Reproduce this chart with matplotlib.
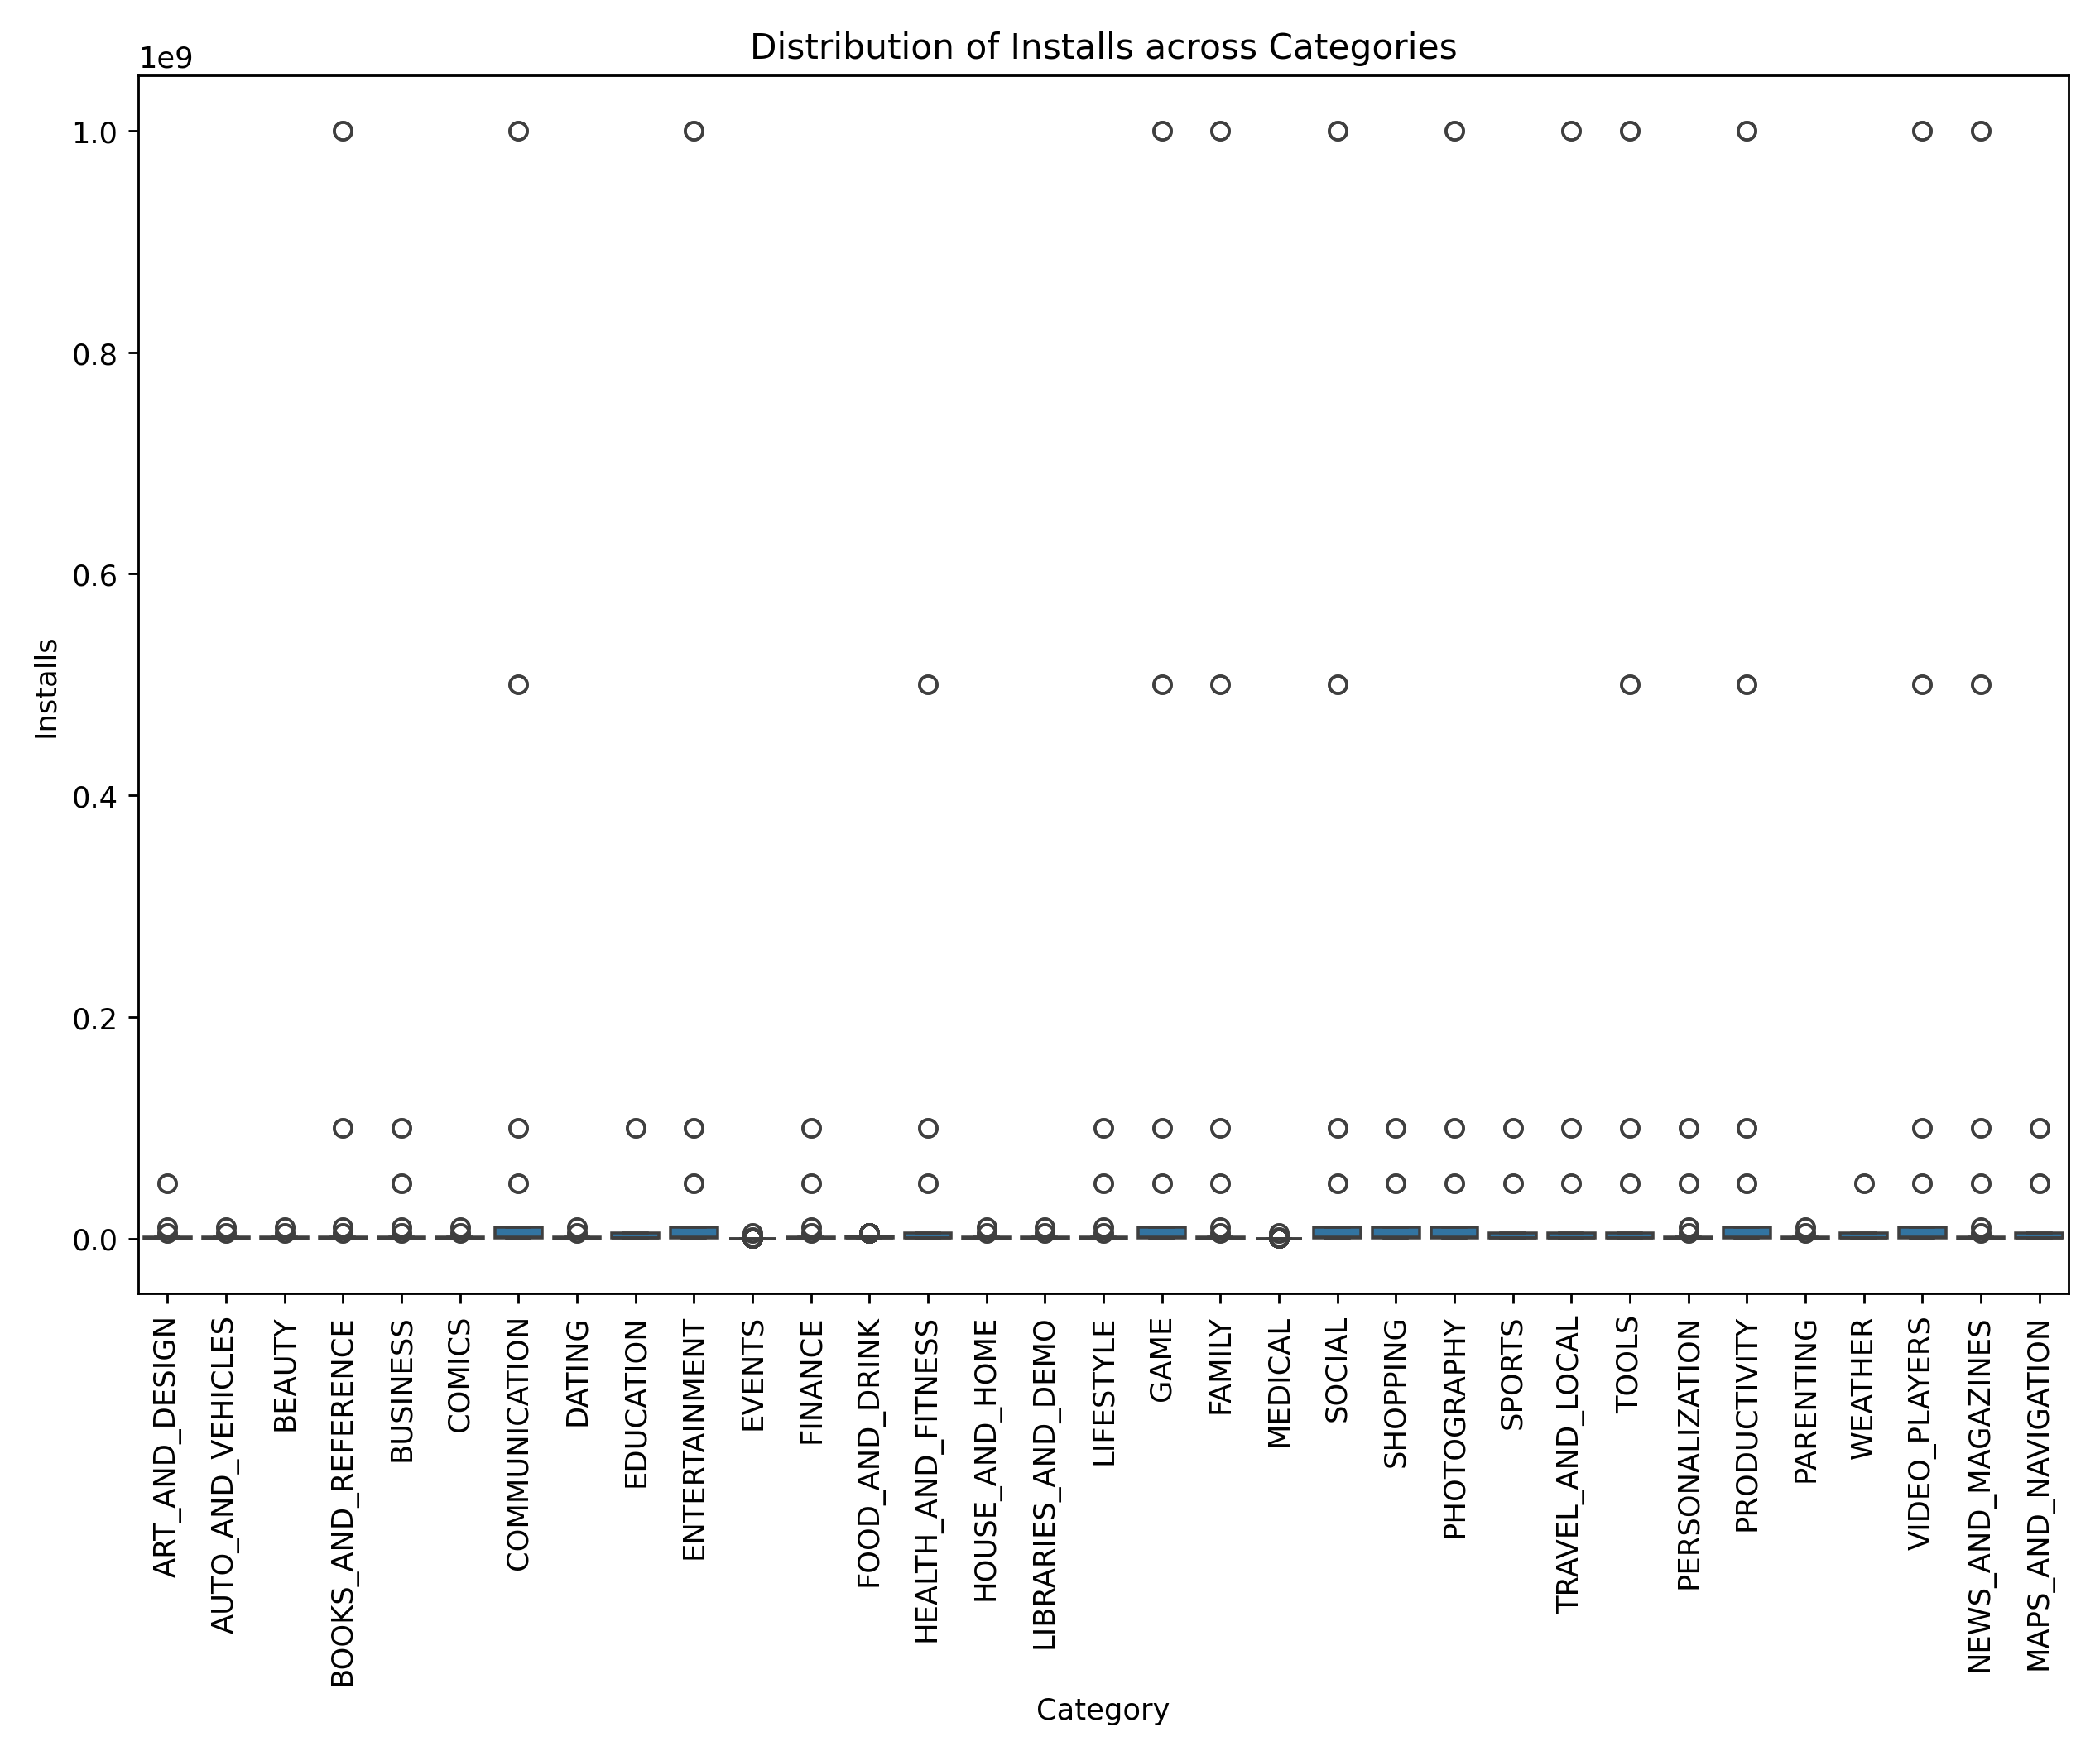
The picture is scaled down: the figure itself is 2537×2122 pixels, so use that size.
import matplotlib
matplotlib.use("Agg")
import matplotlib.pyplot as plt
import seaborn as sns
import pandas as pd

categories = ["ART_AND_DESIGN", "AUTO_AND_VEHICLES", "BEAUTY", "BOOKS_AND_REFERENCE", "BUSINESS",
              "COMICS", "COMMUNICATION", "DATING", "EDUCATION", "ENTERTAINMENT", "EVENTS", "FINANCE",
              "FOOD_AND_DRINK", "HEALTH_AND_FITNESS", "HOUSE_AND_HOME", "LIBRARIES_AND_DEMO", "LIFESTYLE",
              "GAME", "FAMILY", "MEDICAL", "SOCIAL", "SHOPPING", "PHOTOGRAPHY", "SPORTS",
              "TRAVEL_AND_LOCAL", "TOOLS", "PERSONALIZATION", "PRODUCTIVITY", "PARENTING", "WEATHER",
              "VIDEO_PLAYERS", "NEWS_AND_MAGAZINES", "MAPS_AND_NAVIGATION"]

# typical install counts making up the box for each size tier
core_small = [100, 1000, 10000, 10000, 100000, 100000, 1000000, 1000000]
core_mid = [1000, 10000, 100000, 100000, 500000, 1000000, 5000000, 5000000]
core_large = [1000, 10000, 100000, 1000000, 1000000, 5000000, 10000000, 10000000]
core_tiny = [1, 10, 100, 500, 1000, 5000, 10000, 50000]
core_repeat = 25

tiers = ["small", "small", "small", "small", "small", "small", "large", "small", "mid", "large",
         "tiny", "small", "mid", "mid", "small", "small", "small", "large", "small", "tiny",
         "large", "large", "large", "mid", "mid", "mid", "small", "large", "small", "mid",
         "large", "small", "mid"]

outliers = [
    [5e6, 1e7, 5e7],
    [5e6, 1e7],
    [5e6, 1e7],
    [5e6, 1e7, 1e8, 1e9],
    [5e6, 1e7, 5e7, 1e8],
    [5e6, 1e7],
    [5e7, 1e8, 5e8, 1e9],
    [5e6, 1e7],
    [1e8],
    [5e7, 1e8, 1e9],
    [1e5, 1e6, 5e6],
    [5e6, 1e7, 5e7, 1e8],
    [],
    [5e7, 1e8, 5e8],
    [5e6, 1e7],
    [5e6, 1e7],
    [5e6, 1e7, 5e7, 1e8],
    [5e7, 1e8, 5e8, 1e9],
    [5e6, 1e7, 5e7, 1e8, 5e8, 1e9],
    [1e5, 1e6, 5e6],
    [5e7, 1e8, 5e8, 1e9],
    [5e7, 1e8],
    [5e7, 1e8, 1e9],
    [5e7, 1e8],
    [5e7, 1e8, 1e9],
    [5e7, 1e8, 5e8, 1e9],
    [5e6, 1e7, 5e7, 1e8],
    [5e7, 1e8, 5e8, 1e9],
    [5e6, 1e7],
    [5e7],
    [5e7, 1e8, 5e8, 1e9],
    [5e6, 1e7, 5e7, 1e8, 5e8, 1e9],
    [5e7, 1e8],
]

core = {"small": core_small, "mid": core_mid, "large": core_large, "tiny": core_tiny}
rows = []
for cat, tier, outs in zip(categories, tiers, outliers):
    for v in core[tier] * core_repeat + outs * 2:
        rows.append((cat, v))
df = pd.DataFrame(rows, columns=["Category", "Installs"])

fig = plt.figure(figsize=(10, 8.368), dpi=253.7)
sns.boxplot(x="Category", y="Installs", data=df, order=categories)
plt.xticks(rotation=90)
plt.title("Distribution of Installs across Categories")
plt.tight_layout()
plt.savefig("out.png", dpi=253.7)
